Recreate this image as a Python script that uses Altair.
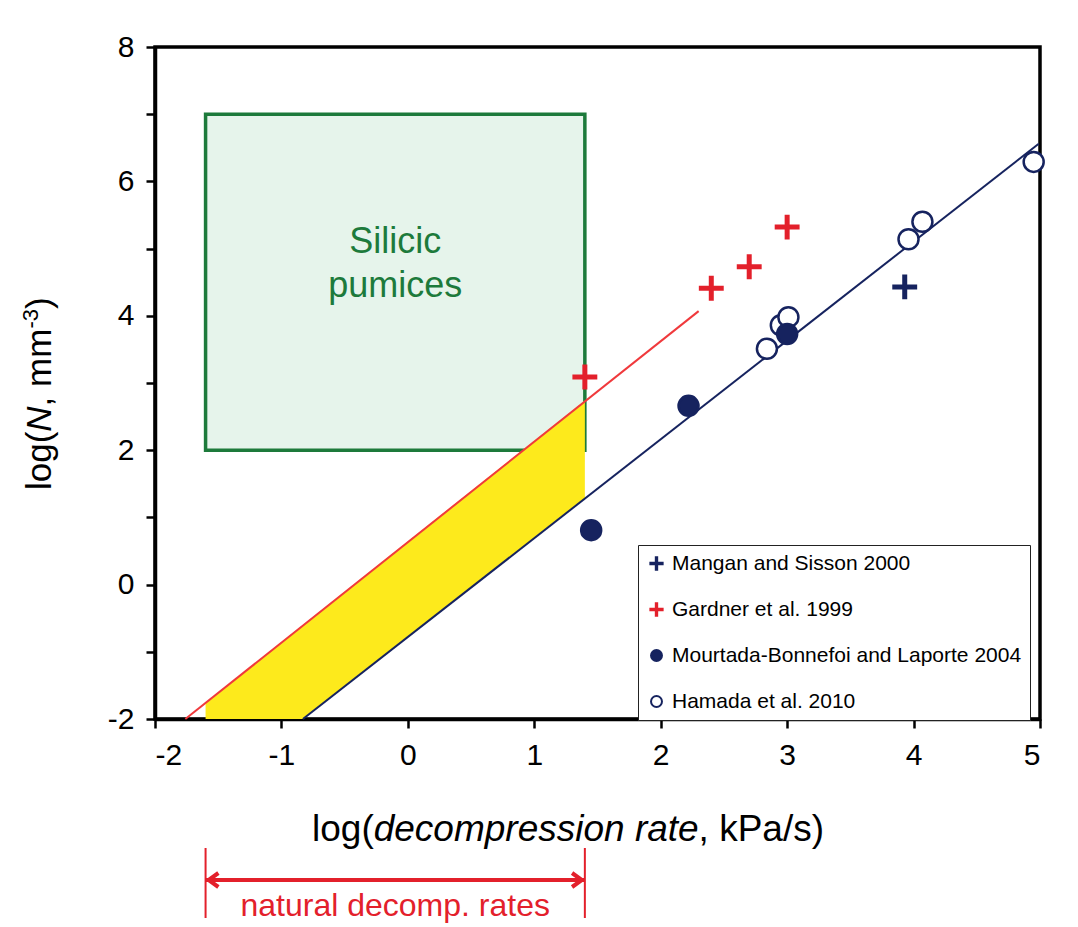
import altair as alt
import pandas as pd

# ---------------- data ----------------
series_names = ["Mangan and Sisson 2000", "Gardner et al. 1999",
                "Mourtada-Bonnefoi and Laporte 2004", "Hamada et al. 2010"]

mangan_x = [3.93]
mangan_y = [4.43]
gardner_x = [1.40, 2.40, 2.70, 3.00]
gardner_y = [3.09, 4.41, 4.73, 5.32]
mourtada_x = [1.45, 2.22, 3.00]
mourtada_y = [0.81, 2.66, 3.73]
hamada_x = [2.84, 2.95, 3.01, 3.96, 4.07, 4.95]
hamada_y = [3.51, 3.86, 3.98, 5.14, 5.40, 6.29]

red_line_x = [-1.76, 2.30]
red_line_y = [-2.0, 4.07]
blue_line_x = [-0.83, 4.99]
blue_line_y = [-2.0, 6.56]

band_x = [-1.6, -0.83, 1.4]
band_top = [-1.76, -0.60, 2.74]
band_bottom = [-2.0, -2.0, 1.28]

box_x = [-1.6, 1.4]
box_y = [2.0, 7.0]
box_label = ["Silicic", "pumices"]
box_label_y = [5.10, 4.44]

natural_range = [-1.6, 1.4]
natural_label = "natural decomp. rates"

x_ticks = [-2, -1, 0, 1, 2, 3, 4, 5]
y_ticks = [-2, -1, 0, 1, 2, 3, 4, 5, 6, 7, 8]

# ---------------- style ----------------
FONT = "Liberation Sans, Arial, sans-serif"
NAVY = "#16235f"
RED = "#e3202b"
LINE_RED = "#f0393c"
GREEN = "#1d7a3b"
GREEN_FILL = "#e6f4eb"
YELLOW = "#fdea1c"
PLUS = ("M-1.12,-0.125L-0.125,-0.125L-0.125,-1.12L0.125,-1.12L0.125,-0.125"
        "L1.12,-0.125L1.12,0.125L0.125,0.125L0.125,1.12L-0.125,1.12"
        "L-0.125,0.125L-1.12,0.125Z")
ARROW_L = "M1.4,-1L0,0L1.4,1"
ARROW_R = "M-1.4,-1L0,0L-1.4,1"

W, H = 885, 672

xscale = alt.Scale(domain=[-2, 5], nice=False, zero=False)
yscale = alt.Scale(domain=[-2, 8], nice=False, zero=False)

xaxis = alt.Axis(values=x_ticks, labelExpr="'' + datum.value", labelFontSize=30,
                 labelFont=FONT, labelColor="black", tickSize=9, tickWidth=2.5,
                 tickColor="black", domainColor="black", domainWidth=3.5,
                 grid=False, labelPadding=12, title=None)
yaxis = alt.Axis(values=y_ticks,
                 labelExpr="datum.value % 2 == 0 ? '' + datum.value : ''",
                 labelFontSize=30, labelFont=FONT, labelColor="black",
                 tickSize=9, tickWidth=2.5, tickColor="black",
                 domainColor="black", domainWidth=3.5, grid=False,
                 labelPadding=12, title=None)


def X(field):
    return alt.X(field, type="quantitative", scale=xscale, axis=xaxis, title=None)


def Y(field):
    return alt.Y(field, type="quantitative", scale=yscale, axis=yaxis, title=None)


# ---------------- tables ----------------
rows = []
for name, xs, ys in [(series_names[3], hamada_x, hamada_y),
                     (series_names[2], mourtada_x, mourtada_y),
                     (series_names[0], mangan_x, mangan_y),
                     (series_names[1], gardner_x, gardner_y)]:
    for a, b in zip(xs, ys):
        rows.append({"x": a, "y": b, "series": name})
pts = pd.DataFrame(rows)

box_df = pd.DataFrame({"x": [box_x[0]], "x2": [box_x[1]], "y": [box_y[0]], "y2": [box_y[1]]})
band_df = pd.DataFrame({"x": band_x, "top": band_top, "bottom": band_bottom})
red_df = pd.DataFrame({"x": red_line_x, "y": red_line_y})
blue_df = pd.DataFrame({"x": blue_line_x, "y": blue_line_y})
lab_df = pd.DataFrame({"x": [sum(box_x) / 2] * 2, "y": box_label_y, "t": box_label})

# ---------------- layers ----------------
box = alt.Chart(box_df).mark_rect(fill=GREEN_FILL, stroke=GREEN, strokeWidth=3.5).encode(
    x=X("x"), x2="x2", y=Y("y"), y2="y2")

band = alt.Chart(band_df).mark_area(color=YELLOW, opacity=1).encode(
    x=X("x"), y=Y("top"), y2="bottom")

red_line = alt.Chart(red_df).mark_line(color=LINE_RED, strokeWidth=2).encode(x=X("x"), y=Y("y"))
blue_line = alt.Chart(blue_df).mark_line(color=NAVY, strokeWidth=2).encode(x=X("x"), y=Y("y"))


def legend():
    return alt.Legend(title=None, orient="none", legendX=483, legendY=498,
                      strokeColor="#222", fillColor="white", padding=8,
                      symbolSize=120, symbolStrokeWidth=2, labelFontSize=21,
                      labelFont=FONT, labelColor="black", rowPadding=24,
                      labelOffset=5, labelLimit=500)


points = alt.Chart(pts).mark_point(filled=True, size=400, strokeWidth=2.5, opacity=1).encode(
    x=X("x"), y=Y("y"),
    shape=alt.Shape("series:N", scale=alt.Scale(domain=series_names,
                                                range=[PLUS, PLUS, "circle", "circle"]),
                    legend=legend()),
    fill=alt.Fill("series:N", scale=alt.Scale(domain=series_names,
                                              range=[NAVY, RED, NAVY, "white"]),
                  legend=legend()),
    stroke=alt.Stroke("series:N", scale=alt.Scale(domain=series_names,
                                                  range=[NAVY, RED, NAVY, NAVY]),
                      legend=legend()),
)

box_text = alt.Chart(lab_df).mark_text(font=FONT, fontSize=36, color=GREEN,
                                       baseline="middle", align="center").encode(
    x=X("x"), y=Y("y"), text="t:N")


def ptext(t, x, y, size, italic=False, angle=0, align="left", color="black"):
    kw = dict(font=FONT, fontSize=size, color=color, align=align,
              baseline="alphabetic", angle=angle)
    if italic:
        kw["fontStyle"] = "italic"
    return alt.Chart(pd.DataFrame({"t": [t]})).mark_text(**kw).encode(
        x=alt.value(x), y=alt.value(y), text="t:N")


# x title: log(decompression rate, kPa/s)
xt_y = 794
xtitle = [
    ptext("log(", 157, xt_y, 37),
    ptext("decompression rate", 218.7, xt_y, 37, italic=True),
    ptext(", kPa/s)", 543.6, xt_y, 37),
]

# y title: log(N, mm-3) rotated
yt_x = -104
ytitle = [
    ptext("log(", yt_x, 443, 35, angle=270),
    ptext("N", yt_x, 384.7, 35, italic=True, angle=270),
    ptext(", mm", yt_x, 359.4, 35, angle=270),
    ptext("-3", yt_x - 13, 281.6, 22, angle=270),
    ptext(")", yt_x, 262.0, 35, angle=270),
]

# natural decompression rates annotation (below the axis)
nat_df = pd.DataFrame({"x": natural_range})
nat_vert = alt.Chart(nat_df).mark_rule(color=RED, strokeWidth=2).encode(
    x=X("x"), y=alt.value(801), y2=alt.value(871))
nat_h = alt.Chart(pd.DataFrame({"x": [natural_range[0]], "x2": [natural_range[1]]})).mark_rule(
    color=RED, strokeWidth=4).encode(x=X("x"), x2="x2", y=alt.value(833))
nat_al = alt.Chart(pd.DataFrame({"x": [natural_range[0]]})).mark_point(
    shape=ARROW_L, size=196, stroke=RED, strokeWidth=4, filled=False, opacity=1,
    xOffset=3).encode(x=X("x"), y=alt.value(833))
nat_ar = alt.Chart(pd.DataFrame({"x": [natural_range[1]]})).mark_point(
    shape=ARROW_R, size=196, stroke=RED, strokeWidth=4, filled=False, opacity=1,
    xOffset=-3).encode(x=X("x"), y=alt.value(833))
nat_txt = alt.Chart(pd.DataFrame({"x": [sum(natural_range) / 2], "t": [natural_label]})).mark_text(
    font=FONT, fontSize=32, color=RED, align="center", baseline="alphabetic").encode(
    x=X("x"), y=alt.value(869), text="t:N")

chart = alt.layer(
    box, band, red_line, blue_line, points, box_text,
    *xtitle, *ytitle, nat_vert, nat_h, nat_al, nat_ar, nat_txt,
).properties(
    width=W, height=H, autosize="none",
    padding={"left": 155, "top": 47, "right": 38, "bottom": 208},
    background="white",
).configure_view(stroke="black", strokeWidth=3.5)

chart.save("out.html", embed_options={"renderer": "svg", "actions": False})
